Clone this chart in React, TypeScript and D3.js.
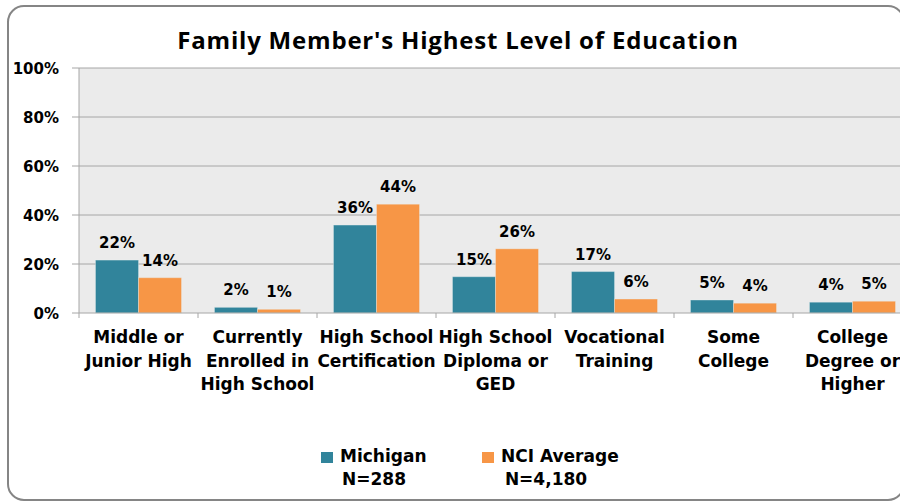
import React from "react";
import * as d3 from "d3";

const categories: string[][] = [
  ["Middle or", "Junior High"],
  ["Currently", "Enrolled in", "High School"],
  ["High School", "Certification"],
  ["High School", "Diploma or", "GED"],
  ["Vocational", "Training"],
  ["Some", "College"],
  ["College", "Degree or", "Higher"],
];
const michigan = [21.6, 2.3, 35.9, 14.8, 16.9, 5.3, 4.4];
const nci = [14.4, 1.5, 44.4, 26.2, 5.7, 4.0, 4.8];
const michiganLabels = ["22%", "2%", "36%", "15%", "17%", "5%", "4%"];
const nciLabels = ["14%", "1%", "44%", "26%", "6%", "4%", "5%"];
const yTicks = [0, 20, 40, 60, 80, 100];
const seriesNames = ["Michigan", "NCI Average"];
const seriesN = ["N=288", "N=4,180"];
const colors = ["#31849B", "#F79646"];

const W = 900;
const H = 501;
const plotLeft = 79;
const plotRight = 912;
const plotTop = 68;
const plotBottom = 313;
const FONT = "'DejaVu Sans', Verdana, sans-serif";

export default function App() {
  const x = d3
    .scaleBand<number>()
    .domain(categories.map((_, i) => i))
    .range([plotLeft, plotRight])
    .padding(0);
  const inner = d3
    .scaleBand<number>()
    .domain([0, 1])
    .range([0, x.bandwidth()])
    .paddingInner(0)
    .paddingOuter(0.384);
  const y = d3.scaleLinear().domain([0, 100]).range([plotBottom, plotTop]);

  const series = [michigan, nci];
  const labels = [michiganLabels, nciLabels];

  const legendEntries = [
    { sq: 321, cx: 374 },
    { sq: 482, cx: 546 },
  ];

  return (
    <svg
      width={W}
      height={H}
      style={{ position: "absolute", left: 0, top: 0, background: "#fff" }}
    >
      <rect
        x={8}
        y={6}
        width={896}
        height={494}
        rx={16}
        ry={16}
        fill="#fff"
        stroke="#858585"
        strokeWidth={2}
      />
      <text
        x={458}
        y={49}
        textAnchor="middle"
        fontFamily="'Open Sans', sans-serif"
        fontWeight={700}
        fontSize={24}
        letterSpacing={0.8}
        fill="#000"
      >
        Family Member's Highest Level of Education
      </text>

      <rect
        x={plotLeft}
        y={plotTop}
        width={plotRight - plotLeft}
        height={plotBottom - plotTop}
        fill="#EBEBEB"
      />
      {yTicks.map((t) => (
        <g key={t}>
          {t > 0 && (
            <line
              x1={plotLeft}
              x2={plotRight}
              y1={y(t)}
              y2={y(t)}
              stroke="#A6A6A6"
              strokeWidth={1}
            />
          )}
          <line x1={72} x2={plotLeft} y1={y(t)} y2={y(t)} stroke="#A6A6A6" />
          <text
            x={59}
            y={y(t) + 6}
            textAnchor="end"
            fontFamily={FONT}
            fontWeight={700}
            fontSize={15}
            fill="#000"
          >
            {t}%
          </text>
        </g>
      ))}
      <line
        x1={plotLeft}
        x2={plotLeft}
        y1={plotTop}
        y2={plotBottom + 5}
        stroke="#A6A6A6"
      />

      {categories.map((cat, i) => {
        const bx = x(i)!;
        return (
          <g key={i}>
            {series.map((s, si) => {
              const top = y(s[i]);
              const bxx = bx + inner(si)!;
              return (
                <g key={si}>
                  <rect
                    x={bxx}
                    y={top}
                    width={inner.bandwidth()}
                    height={plotBottom - top}
                    fill={colors[si]}
                    stroke="#e8f0f2"
                    strokeOpacity={0.35}
                    strokeWidth={1}
                  />
                  <text
                    x={bxx + inner.bandwidth() / 2}
                    y={top - 12}
                    textAnchor="middle"
                    fontFamily={FONT}
                    fontWeight={700}
                    fontSize={15}
                    fill="#000"
                  >
                    {labels[si][i]}
                  </text>
                </g>
              );
            })}
            {cat.map((line, li) => (
              <text
                key={li}
                x={bx + x.bandwidth() / 2}
                y={343 + li * 23.5}
                textAnchor="middle"
                fontFamily={FONT}
                fontWeight={700}
                fontSize={17}
                fill="#000"
              >
                {line}
              </text>
            ))}
          </g>
        );
      })}
      <line
        x1={plotLeft}
        x2={plotRight}
        y1={plotBottom}
        y2={plotBottom}
        stroke="#A6A6A6"
      />
      {categories.map((_, i) =>
        i === 0 ? null : (
          <line
            key={i}
            x1={x(i)!}
            x2={x(i)!}
            y1={plotBottom}
            y2={plotBottom + 5}
            stroke="#A6A6A6"
          />
        )
      )}

      {legendEntries.map((e, si) => (
        <g key={si}>
          <rect x={e.sq} y={452} width={12} height={11} fill={colors[si]} />
          <text
            x={e.sq + 19}
            y={462}
            fontFamily={FONT}
            fontWeight={700}
            fontSize={17}
            fill="#000"
          >
            {seriesNames[si]}
          </text>
          <text
            x={e.cx}
            y={485}
            textAnchor="middle"
            fontFamily={FONT}
            fontWeight={700}
            fontSize={17}
            fill="#000"
          >
            {seriesN[si]}
          </text>
        </g>
      ))}
    </svg>
  );
}
